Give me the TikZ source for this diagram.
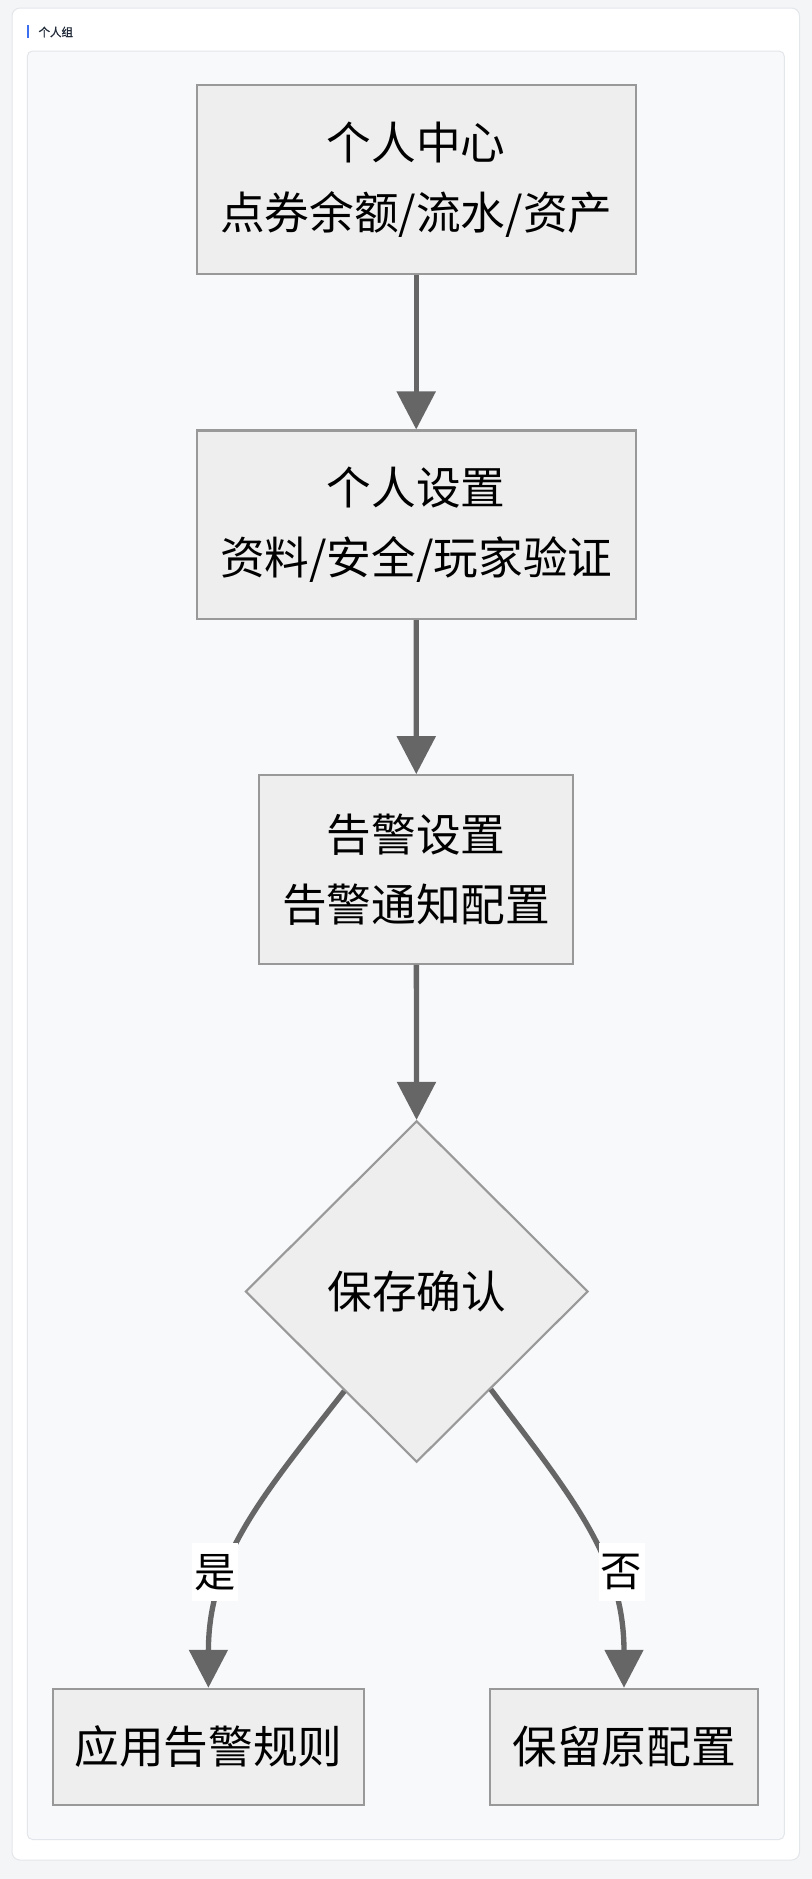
\documentclass[tikz,border=0pt]{standalone}
\usepackage{fontspec}
\usetikzlibrary{calc,arrows.meta,shapes.geometric}
\newfontfamily\cjk{Noto Sans CJK SC}
\newfontfamily\cjkhead{Noto Sans CJK SC}[FakeBold=1.2]
\definecolor{pagebg}{HTML}{F4F5F7}
\definecolor{cardline}{HTML}{E3E6EA}
\definecolor{panelbg}{HTML}{F8F9FB}
\definecolor{boxfill}{HTML}{EEEEEE}
\definecolor{boxline}{HTML}{999999}
\definecolor{flowline}{HTML}{666666}
\definecolor{tagblue}{HTML}{3B6FF0}
\definecolor{headtext}{HTML}{1F2937}
\tikzset{
	flowbox/.style={draw=boxline, fill=boxfill, line width=1.6pt, inner sep=0pt, align=center, font=\cjk\fontsize{33.5}{52.5}\selectfont},
	decision/.style={flowbox, diamond, aspect=1, minimum width=257pt, minimum height=256pt},
	flow/.style={draw=flowline, line width=4pt, -{Triangle[length=28.5pt,width=28.5pt]}},
	choice/.style={fill=white, inner sep=0pt, minimum width=34.5pt, minimum height=43.5pt, font=\cjk\fontsize{31}{31}\selectfont}
}

\begin{document}
\begin{tikzpicture}[x=0.75pt, y=-0.75pt]
		%%%%% START %%%%%
		
		\useasboundingbox (0, 0) rectangle (812, 1879);
		\fill[pagebg] (0, 0) rectangle (812, 1879);
		
		\draw[cardline, fill=white, line width=0.75pt, rounded corners=6pt] (12, 8) rectangle (799.5, 1860);
		\fill[tagblue] (26.7, 25) rectangle (29.3, 37.7);
		\node[anchor=west, inner sep=0pt, text=headtext, font=\cjkhead\fontsize{8.6}{10}\selectfont] (group) at (38.3, 32) {个人组};
		\draw[cardline, fill=panelbg, line width=0.75pt, rounded corners=4pt] (27.3, 51) rectangle (784.3, 1839.5);
		
		\node[flowbox, minimum width=329.25pt, minimum height=141.4pt] (center) at (416.2, 179.3) {个人中心\\点券余额/流水/资产};
		\node[flowbox, minimum width=329.25pt, minimum height=141.4pt] (settings) at (416.2, 524.8) {个人设置\\资料/安全/玩家验证};
		\node[flowbox, minimum width=235.5pt, minimum height=141.4pt] (alarm) at (416.3, 869.5) {告警设置\\告警通知配置};
		
		\node[decision] (confirm) at (416.7, 1291.5) {保存确认};
		
		\node[flowbox, minimum width=233.25pt, minimum height=87pt] (apply) at (208.4, 1746.8) {应用告警规则};
		\node[flowbox, minimum width=201pt, minimum height=87pt] (keep) at (624, 1746.8) {保留原配置};
		
		\draw[flow] (center) -- (settings);
		\draw[flow] (settings) -- (alarm);
		\draw[flow] (alarm) -- (confirm);
		
		\draw[flow] ($(confirm.west)!0.58!(confirm.south)$) .. controls +(-83, 106) and +(0, -129) .. (apply.north)
			node[choice, pos=0.65, xshift=-9pt] (yes) {是};
		\draw[flow] ($(confirm.east)!0.57!(confirm.south)$) .. controls +(80, 106) and +(0, -129) .. (keep.north)
			node[choice, pos=0.65, xshift=12pt] (no) {否};
		
		%%%%% END %%%%%
	\end{tikzpicture}
\end{document}
